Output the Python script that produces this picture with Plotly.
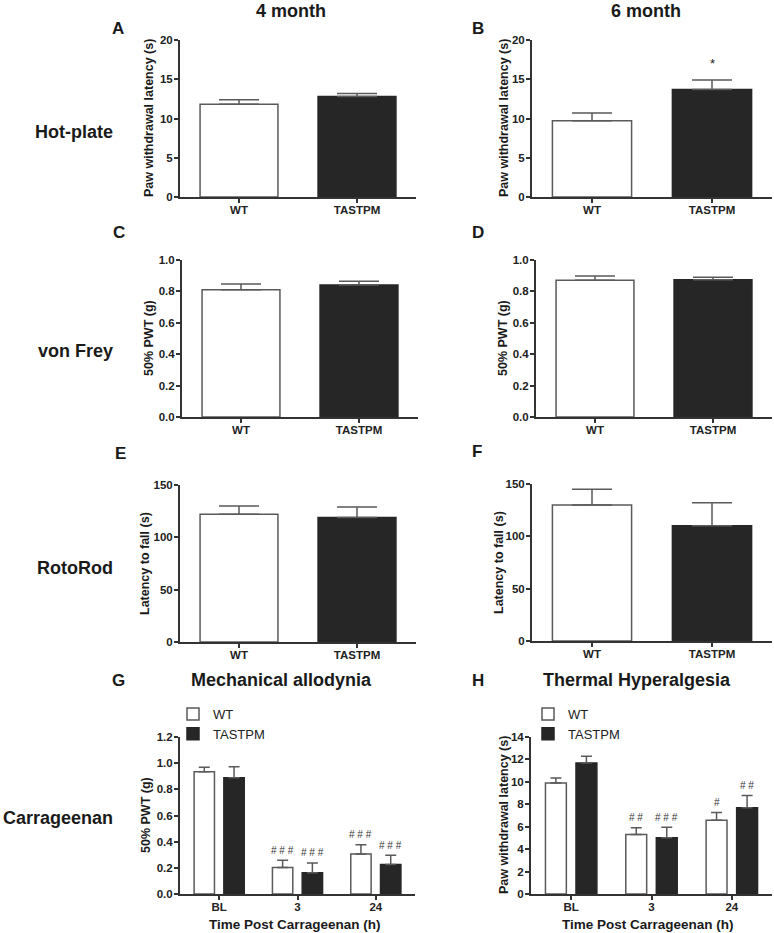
import plotly.graph_objects as go

W, H = 774, 933

# ---- data ----
groups = ["WT", "TASTPM"]

hot_4m = [11.8, 12.8]
hot_4m_sem = [0.6, 0.4]
hot_6m = [9.7, 13.7]
hot_6m_sem = [1.0, 1.2]

vf_4m = [0.81, 0.84]
vf_4m_sem = [0.037, 0.024]
vf_6m = [0.871, 0.875]
vf_6m_sem = [0.027, 0.015]

rr_4m = [122, 119]
rr_4m_sem = [8, 10]
rr_6m = [130, 110]
rr_6m_sem = [15, 22]

times = ["BL", "3", "24"]
mech_wt = [0.935, 0.202, 0.306]
mech_wt_sem = [0.033, 0.056, 0.07]
mech_tg = [0.888, 0.162, 0.225]
mech_tg_sem = [0.085, 0.075, 0.071]
mech_wt_sig = ["", "# # #", "# # #"]
mech_tg_sig = ["", "# # #", "# # #"]

therm_wt = [9.9, 5.31, 6.58]
therm_wt_sem = [0.45, 0.59, 0.69]
therm_tg = [11.68, 5.01, 7.68]
therm_tg_sem = [0.6, 0.95, 1.1]
therm_wt_sig = ["", "# #", "#"]
therm_tg_sig = ["", "# # #", "# #"]

FONT = "Liberation Sans, Arial, sans-serif"
DARK = "#262626"
EDGE = "#5a5a5a"
AX = "#333333"

# panel boxes in px: (left, right, top, bottom)
boxes = {
    1: (180, 416, 40, 197),
    2: (532, 772, 40, 197),
    3: (182, 418, 260, 417),
    4: (536, 772, 260, 417),
    5: (180, 416, 485, 642),
    6: (532, 772, 484, 641),
    7: (180, 415, 737, 894),
    8: (531, 772, 737, 894),
}

fig = go.Figure()


def ax(i):
    return ("x" if i == 1 else f"x{i}"), ("y" if i == 1 else f"y{i}")


def two_bar(i, vals, sem):
    xa, ya = ax(i)
    fig.add_trace(go.Bar(
        x=groups, y=vals, xaxis=xa, yaxis=ya, width=0.66,
        marker=dict(color=["white", DARK], line=dict(color=[EDGE, DARK], width=1.5)),
        error_y=dict(type="data", array=sem, arrayminus=[0, 0], symmetric=False,
                     color=EDGE, thickness=1.5, width=20),
        showlegend=False,
    ))


two_bar(1, hot_4m, hot_4m_sem)
two_bar(2, hot_6m, hot_6m_sem)
two_bar(3, vf_4m, vf_4m_sem)
two_bar(4, vf_6m, vf_6m_sem)
two_bar(5, rr_4m, rr_4m_sem)
two_bar(6, rr_6m, rr_6m_sem)


def grouped(i, wt, wt_sem, tg, tg_sem, leg):
    xa, ya = ax(i)
    fig.add_trace(go.Bar(
        x=times, y=wt, xaxis=xa, yaxis=ya, width=0.26, offset=-0.32, name="WT",
        marker=dict(color="white", line=dict(color=EDGE, width=1.5)),
        error_y=dict(type="data", array=wt_sem, arrayminus=[0] * 3, symmetric=False,
                     color=EDGE, thickness=1.5, width=5.5),
        legend=leg,
    ))
    fig.add_trace(go.Bar(
        x=times, y=tg, xaxis=xa, yaxis=ya, width=0.26, offset=0.06, name="TASTPM",
        marker=dict(color=DARK, line=dict(color=DARK, width=1.5)),
        error_y=dict(type="data", array=tg_sem, arrayminus=[0] * 3, symmetric=False,
                     color=EDGE, thickness=1.5, width=5.5),
        legend=leg,
    ))


grouped(7, mech_wt, mech_wt_sem, mech_tg, mech_tg_sem, "legend")
grouped(8, therm_wt, therm_wt_sem, therm_tg, therm_tg_sem, "legend2")

yspec = {
    1: dict(range=[0, 20], dtick=5, tickformat="d"),
    2: dict(range=[0, 20], dtick=5, tickformat="d"),
    3: dict(range=[0, 1.0], dtick=0.2, tickformat=".1f"),
    4: dict(range=[0, 1.0], dtick=0.2, tickformat=".1f"),
    5: dict(range=[0, 150], dtick=50, tickformat="d"),
    6: dict(range=[0, 150], dtick=50, tickformat="d"),
    7: dict(range=[0, 1.2], dtick=0.2, tickformat=".1f"),
    8: dict(range=[0, 14], dtick=2, tickformat="d"),
}

tickfont = dict(family=FONT, size=11.5, color="#222", weight="bold")
layout = {}
for i, (l, r, t, b) in boxes.items():
    xa, ya = ax(i)
    ncat = 3 if i >= 7 else 2
    layout["xaxis" if i == 1 else f"xaxis{i}"] = dict(
        domain=[l / W, r / W], anchor=ya, type="category", automargin=False,
        range=[-0.5, ncat - 0.5], showline=True, linecolor=AX, linewidth=2,
        ticks="outside", ticklen=4, tickwidth=1.5, tickcolor=AX, ticklabelstandoff=-3,
        showgrid=False, zeroline=False, tickfont=tickfont, fixedrange=True,
    )
    layout["yaxis" if i == 1 else f"yaxis{i}"] = dict(
        domain=[1 - b / H, 1 - t / H], anchor=xa, showline=True, linecolor=AX,
        linewidth=2, ticks="outside", ticklen=4, tickwidth=1.5, tickcolor=AX,
        automargin=False, ticklabelstandoff=-1,
        showgrid=False, zeroline=False, tickfont=tickfont, **yspec[i],
    )

ann = []


def txt(x, y, s, size, bold=True, angle=0, xanchor="center"):
    ann.append(dict(
        x=x / W, y=1 - y / H, xref="paper", yref="paper", text=s, showarrow=False,
        xanchor=xanchor, yanchor="middle", textangle=angle,
        font=dict(family=FONT, size=size, color="#1a1a1a", weight="bold" if bold else "normal"),
    ))


txt(291, 11, "4 month", 18)
txt(646, 11, "6 month", 18)
for lab, x, y in [("A", 118, 29), ("B", 478, 29), ("C", 119, 233), ("D", 478, 233),
                  ("E", 120, 453), ("F", 477, 451), ("G", 119, 680), ("H", 478, 680)]:
    txt(x, y, lab, 17)
for lab, y in [("Hot-plate", 132), ("von Frey", 351), ("RotoRod", 568), ("Carrageenan", 818)]:
    txt(115, y, lab, 18, xanchor="right")
txt(281, 680, "Mechanical allodynia", 18)
txt(637, 680, "Thermal Hyperalgesia", 18)

# y axis titles
for x, y, s in [(149, 118, "Paw withdrawal latency (s)"), (504, 118, "Paw withdrawal latency (s)"),
                (149, 338, "50% PWT (g)"), (503, 338, "50% PWT (g)"),
                (145, 564, "Latency to fall (s)"), (499, 562, "Latency to fall (s)"),
                (146, 815, "50% PWT (g)"), (504, 815, "Paw withdrawal latency (s)")]:
    txt(x, y, s, 12.5, angle=-90)
txt(295, 924, "Time Post Carrageenan (h)", 13.5)
txt(648, 924, "Time Post Carrageenan (h)", 13.5)

# significance marks
ann.append(dict(x=1, y=hot_6m[1] + hot_6m_sem[1], xref="x2", yref="y2",
                text="*", showarrow=False, yshift=17, font=dict(family=FONT, size=13, color="#222")))


def marks(i, vals, sem, sig, dx):
    xa, ya = ax(i)
    for k in range(len(vals)):
        if sig[k]:
            ann.append(dict(x=k + dx, y=vals[k] + sem[k], xref=xa, yref=ya, text=sig[k],
                            showarrow=False, yshift=10,
                            font=dict(family=FONT, size=10, color="#333")))


marks(7, mech_wt, mech_wt_sem, mech_wt_sig, -0.19)
marks(7, mech_tg, mech_tg_sem, mech_tg_sig, 0.19)
marks(8, therm_wt, therm_wt_sem, therm_wt_sig, -0.19)
marks(8, therm_tg, therm_tg_sem, therm_tg_sig, 0.19)

legfont = dict(family=FONT, size=13, color="#222")
fig.update_layout(
    width=W, height=H, margin=dict(l=0, r=0, t=0, b=0, autoexpand=False),
    paper_bgcolor="white", plot_bgcolor="white",
    font=dict(family=FONT),
    annotations=ann,
    legend=dict(x=173 / W, y=1 - 699 / H, xanchor="left", yanchor="top", font=legfont,
                bgcolor="rgba(0,0,0,0)", tracegroupgap=0),
    legend2=dict(x=528 / W, y=1 - 699 / H, xanchor="left", yanchor="top", font=legfont,
                 bgcolor="rgba(0,0,0,0)", tracegroupgap=0),
    **layout,
)

# page body has a default 8px margin; drop it so the figure sits at 0,0
fig.write_html("out.html", config={"displayModeBar": False},
               post_script="document.body.style.margin='0';document.body.style.overflow='hidden';")
